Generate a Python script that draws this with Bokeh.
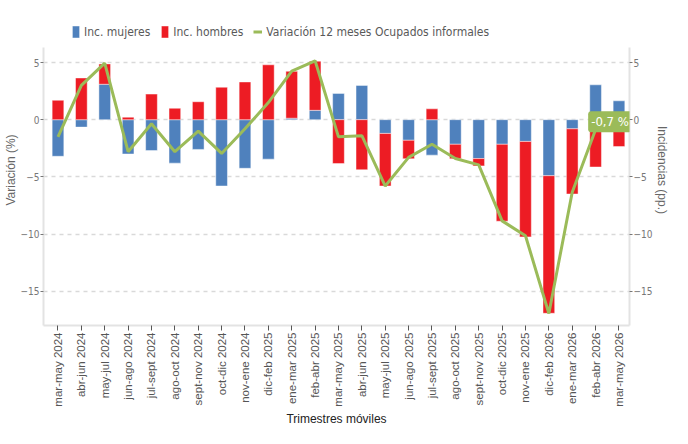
import math
from bokeh.plotting import figure
from bokeh.models import Range1d, FixedTicker, LinearAxis, Legend, LegendItem, Label
from bokeh.embed import file_html
from bokeh.resources import INLINE

categorias = ["mar-may 2024", "abr-jun 2024", "may-jul 2024", "jun-ago 2024", "jul-sept 2024",
              "ago-oct 2024", "sept-nov 2024", "oct-dic 2024", "nov-ene 2024", "dic-feb 2025",
              "ene-mar 2025", "feb-abr 2025", "mar-may 2025", "abr-jun 2025", "may-jul 2025",
              "jun-ago 2025", "jul-sept 2025", "ago-oct 2025", "sept-nov 2025", "oct-dic 2025",
              "nov-ene 2025", "dic-feb 2026", "ene-mar 2026", "feb-abr 2026", "mar-may 2026"]
inc_mujeres = [-3.2, -0.65, 3.1, -3.0, -2.7, -3.8, -2.6, -5.8, -4.25, -3.45, 0.13, 0.82, 2.3,
               3.0, -1.2, -1.8, -3.1, -2.15, -3.4, -2.15, -1.9, -4.9, -0.8, 3.05, 1.65]
inc_hombres = [1.7, 3.65, 1.78, 0.22, 2.24, 1.0, 1.57, 2.84, 3.3, 4.8, 4.1, 4.3, -3.84,
               -4.38, -4.6, -1.62, 0.95, -1.27, -0.64, -6.73, -8.35, -12.03, -5.7, -4.14, -2.35]
variacion = [-1.5, 3.0, 4.95, -2.8, -0.35, -2.8, -1.0, -2.95, -0.8, 1.5, 4.25, 5.15, -1.5,
             -1.4, -5.8, -3.3, -2.15, -3.4, -3.95, -8.85, -10.15, -16.95, -6.35, -0.85, -0.7]
etiqueta_final = "-0,7 %"
y_ticks = [-15, -10, -5, 0, 5]

AZUL = "#4F81BD"
ROJO = "#ED1C24"
VERDE = "#9BBB59"
GRIS = "#666666"
NARROW = "DejaVu Sans Condensed"
SANS = "Liberation Sans"

n = len(categorias)
x = [float(i) for i in range(n)]
h_bottom = [mm if (mm >= 0) == (hh >= 0) else 0.0 for mm, hh in zip(inc_mujeres, inc_hombres)]
h_top = [b + hh for b, hh in zip(h_bottom, inc_hombres)]

Y_MIN, Y_AXIS_MAX, Y_FRAME_MAX = -18.0, 6.3, 9.2

p = figure(width=672, height=428, output_backend="svg", toolbar_location=None,
           x_range=Range1d(-0.62, n - 0.55), y_range=Range1d(Y_MIN, Y_FRAME_MAX),
           min_border_left=0, min_border_right=0, min_border_top=14, min_border_bottom=0)
p.extra_y_ranges = {"inc": Range1d(Y_MIN, Y_FRAME_MAX)}

r_m = p.vbar(x=x, bottom=0, top=inc_mujeres, width=0.5, fill_color=AZUL, line_color="white", line_alpha=0.45)
r_h = p.vbar(x=x, bottom=h_bottom, top=h_top, width=0.5, fill_color=ROJO, line_color="white", line_alpha=0.45)
r_l = p.line(x=x, y=variacion, line_color=VERDE, line_width=3)

lab = Label(x=x[-1], y=variacion[-1], x_offset=-9, y_offset=6, text=etiqueta_final,
            text_align="center", text_baseline="middle", text_color="white",
            text_font=NARROW, text_font_size="13px",
            background_fill_color=VERDE, padding=3, border_radius=3)
p.add_layout(lab)

p.outline_line_color = None
p.xgrid.grid_line_color = None
p.ygrid.ticker = FixedTicker(ticks=y_ticks)
p.ygrid.grid_line_color = "#d9d9d9"
p.ygrid.grid_line_dash = "4 4"
p.ygrid.grid_line_width = 1.5

ax = p.xaxis[0]
ax.ticker = FixedTicker(ticks=list(range(n)))
ax.major_label_overrides = {i: c for i, c in enumerate(categorias)}
ax.major_label_orientation = math.pi / 2
ax.major_label_text_font = SANS
ax.major_label_text_font_size = "11.5px"
ax.major_label_text_color = "#555555"
ax.major_label_standoff = 2
ax.major_tick_out = 5
ax.major_tick_in = 0
ax.major_tick_line_color = "#555555"
ax.minor_tick_line_color = None
ax.axis_line_color = "#e3e3e3"
ax.axis_line_width = 2
ax.axis_label = "Trimestres móviles"
ax.axis_label_text_font = SANS
ax.axis_label_text_font_size = "12px"
ax.axis_label_text_font_style = "normal"
ax.axis_label_text_color = "#222222"
ax.axis_label_standoff = 2

yl = p.yaxis[0]
yr = LinearAxis(y_range_name="inc")
p.add_layout(yr, "right")
yl.axis_label = "Variación (%)"
yr.axis_label = "Incidencias (pp.)"
for a in (yl, yr):
    a.ticker = FixedTicker(ticks=y_ticks)
    a.bounds = (Y_MIN, Y_AXIS_MAX)
    a.major_label_text_font = NARROW
    a.major_label_text_font_size = "10px"
    a.major_label_text_color = "#777777"
    a.major_label_standoff = 1
    a.major_tick_out = 3
    a.major_tick_in = 0
    a.major_tick_line_color = "#777777"
    a.minor_tick_line_color = None
    a.axis_line_color = "#e3e3e3"
    a.axis_line_width = 2
    a.axis_label_text_font = SANS
    a.axis_label_text_font_size = "12px"
    a.axis_label_text_font_style = "normal"
    a.axis_label_text_color = GRIS
    a.axis_label_standoff = 0

legend = Legend(items=[LegendItem(label="Inc. mujeres", renderers=[r_m]),
                       LegendItem(label="Inc. hombres", renderers=[r_h]),
                       LegendItem(label="Variación 12 meses Ocupados informales", renderers=[r_l])],
                orientation="horizontal", location=(28, 286),
                label_text_font=NARROW, label_text_font_size="12px", label_text_color="#595959",
                glyph_width=9, glyph_height=15, label_standoff=4, spacing=10,
                padding=2, margin=0, border_line_color=None, background_fill_alpha=0)
p.add_layout(legend)

open("out.html", "w").write(file_html(p, INLINE))
